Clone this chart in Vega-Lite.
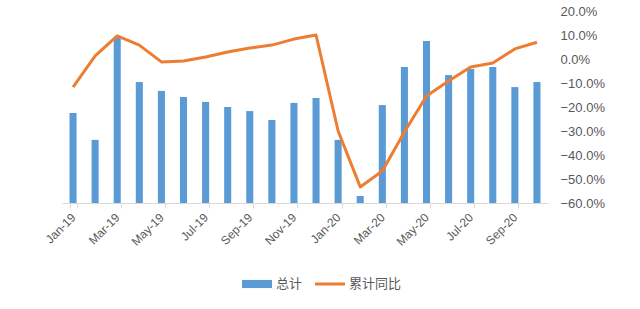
{
  "$schema": "https://vega.github.io/schema/vega-lite/v6.json",
  "width": 486,
  "height": 192,
  "padding": {"left": 42, "top": 5, "right": 5, "bottom": 5},
  "background": "white",
  "config": {
    "view": {"stroke": null},
    "font": "Noto Sans CJK SC"
  },
  "data": {
    "values": [
      {"month": "Jan-19", "total": 37.5, "yoy": -0.117},
      {"month": "Feb-19", "total": 26.3, "yoy": 0.013},
      {"month": "Mar-19", "total": 69.2, "yoy": 0.096},
      {"month": "Apr-19", "total": 50.4, "yoy": 0.058},
      {"month": "May-19", "total": 46.7, "yoy": -0.012},
      {"month": "Jun-19", "total": 44.2, "yoy": -0.008},
      {"month": "Jul-19", "total": 42.1, "yoy": 0.008},
      {"month": "Aug-19", "total": 40.0, "yoy": 0.029},
      {"month": "Sep-19", "total": 38.3, "yoy": 0.046},
      {"month": "Oct-19", "total": 34.6, "yoy": 0.058},
      {"month": "Nov-19", "total": 41.7, "yoy": 0.083},
      {"month": "Dec-19", "total": 43.8, "yoy": 0.100},
      {"month": "Jan-20", "total": 26.3, "yoy": -0.300},
      {"month": "Feb-20", "total": 2.9, "yoy": -0.533},
      {"month": "Mar-20", "total": 40.8, "yoy": -0.467},
      {"month": "Apr-20", "total": 56.7, "yoy": -0.304},
      {"month": "May-20", "total": 67.5, "yoy": -0.154},
      {"month": "Jun-20", "total": 53.3, "yoy": -0.092},
      {"month": "Jul-20", "total": 55.8, "yoy": -0.033},
      {"month": "Aug-20", "total": 56.7, "yoy": -0.017},
      {"month": "Sep-20", "total": 48.3, "yoy": 0.042},
      {"month": "Oct-20", "total": 50.4, "yoy": 0.070}
    ]
  },
  "encoding": {
    "x": {
      "field": "month",
      "type": "nominal",
      "sort": null,
      "scale": {"paddingInner": 0.68, "paddingOuter": 0.34},
      "axis": {
        "title": null,
        "values": ["Jan-19", "Mar-19", "May-19", "Jul-19", "Sep-19", "Nov-19", "Jan-20", "Mar-20", "May-20", "Jul-20", "Sep-20"],
        "labelAngle": -45,
        "labelAlign": "right",
        "labelBaseline": "middle",
        "labelFont": "Liberation Sans, sans-serif",
        "labelFontSize": 12,
        "labelColor": "#595959",
        "labelPadding": 7,
        "domainColor": "#d9d9d9",
        "tickColor": "#d9d9d9",
        "tickBand": "extent",
        "tickSize": 5,
        "grid": false
      }
    }
  },
  "layer": [
    {
      "mark": {"type": "bar", "color": "#5B9BD5"},
      "encoding": {
        "y": {"field": "total", "type": "quantitative", "scale": {"domain": [0, 80]}, "axis": null},
        "color": {
          "datum": "总计",
          "type": "nominal",
          "scale": {"domain": ["总计", "累计同比"], "range": ["#5B9BD5", "#ED7D31"]},
          "legend": {
            "title": null,
            "orient": "none",
            "legendX": 180,
            "legendY": 258,
            "direction": "horizontal",
            "labelFontSize": 13,
            "labelColor": "#595959",
            "labelOffset": 4,
            "symbolSize": 900,
            "columnPadding": 12,
            "encode": {
              "symbols": {
                "update": {
                  "shape": {"signal": "datum.value === '总计' ? 'M-1,-0.27H1V0.27H-1Z' : 'M-1,-0.1H1V0.1H-1Z'"},
                  "strokeWidth": {"value": 0}
                }
              }
            }
          }
        }
      }
    },
    {
      "mark": {"type": "line", "color": "#ED7D31", "strokeWidth": 3, "strokeJoin": "round"},
      "encoding": {
        "x": {"field": "month", "type": "nominal", "sort": null, "bandPosition": 0.5},
        "y": {
          "field": "yoy",
          "type": "quantitative",
          "scale": {"domain": [-0.6, 0.2]},
          "axis": {
            "orient": "right",
            "format": ".1%",
            "title": null,
            "values": [-0.6, -0.5, -0.4, -0.3, -0.2, -0.1, 0, 0.1, 0.2],
            "domain": false,
            "ticks": false,
            "grid": false,
            "labelFont": "Liberation Sans, sans-serif",
            "labelFontSize": 13,
            "labelColor": "#595959",
            "labelPadding": 12
          }
        },
        "color": {"datum": "累计同比", "type": "nominal"}
      }
    }
  ],
  "resolve": {"scale": {"y": "independent"}}
}
